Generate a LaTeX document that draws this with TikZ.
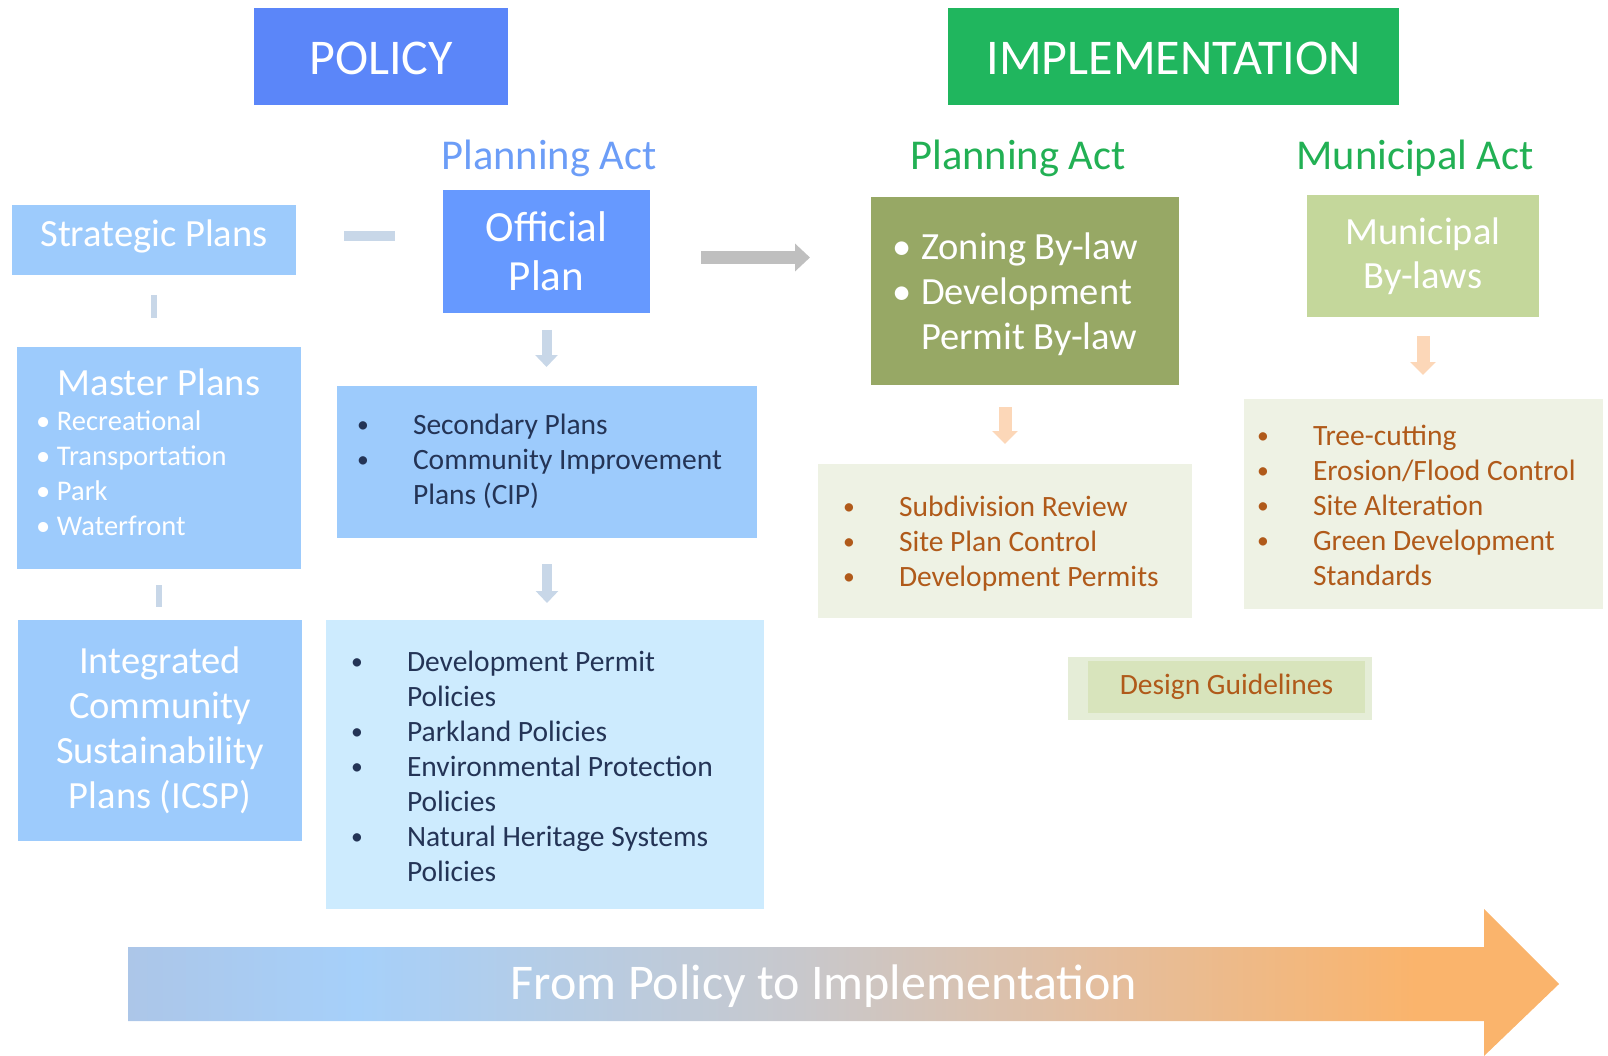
\documentclass[tikz,border=0pt]{standalone}
\usepackage{fontspec}
\usepackage{graphicx}
\setmainfont{Carlito}
\usetikzlibrary{arrows.meta,backgrounds}

\definecolor{policyblue}{RGB}{91,134,249}
\definecolor{implgreen}{RGB}{32,182,94}
\definecolor{actblue}{RGB}{108,157,247}
\definecolor{actgreen}{RGB}{34,176,84}
\definecolor{skyfill}{RGB}{157,203,252}
\definecolor{planfill}{RGB}{102,153,255}
\definecolor{paleblue}{RGB}{205,235,254}
\definecolor{olivefill}{RGB}{151,168,101}
\definecolor{lightolive}{RGB}{196,215,155}
\definecolor{paleolive}{RGB}{238,242,228}
\definecolor{dgouter}{RGB}{229,237,215}
\definecolor{dginner}{RGB}{216,228,188}
\definecolor{navytext}{RGB}{36,52,86}
\definecolor{browntext}{RGB}{176,90,26}
\definecolor{barblue}{RGB}{200,215,232}
\definecolor{arrowgrey}{RGB}{191,191,191}
\definecolor{peach}{RGB}{252,215,184}
\definecolor{flowA}{RGB}{172,198,232}
\definecolor{flowB}{RGB}{166,208,250}
\definecolor{flowC}{RGB}{200,200,204}
\definecolor{flowD}{RGB}{228,190,158}
\definecolor{flowE}{RGB}{250,180,108}
\pgfdeclarehorizontalshading{flowshade}{100bp}{color(0bp)=(flowA); color(25bp)=(flowA);
  color(33bp)=(flowB); color(48.5bp)=(flowC); color(59bp)=(flowD); color(70bp)=(flowE); color(100bp)=(flowE)}

\newcommand{\bul}[1][56pt]{\makebox[#1][l]{\raisebox{2pt}{\scalebox{.8}{\textbullet}}}}
\newcommand{\wbul}[1][21pt]{\makebox[#1][l]{\textbullet}}
\newcommand{\ind}[1][56pt]{\hspace*{#1}}
\newcommand{\lst}[3][4pt]{\raisebox{-#1}[\height][\depth]{\makebox[#2][l]{\begin{tabular}{@{}l@{}}#3\end{tabular}}}}

\begin{document}
\begin{tikzpicture}[x=1pt,y=-1pt,
  box/.style={inner sep=0pt, outer sep=0pt},
  headbox/.style={box, text=white, font=\fontsize{50}{60}\selectfont},
  act/.style={font=\fontsize{42.5}{50}\selectfont},
  bigtext/.style={box, text=white, align=center, font=\fontsize{38.5}{45}\selectfont},
  listtext/.style={box, font=\fontsize{29.5}{35}\selectfont},
  bar/.style={draw=barblue},
  bluearrow/.style={draw=barblue, line width=10pt, -{Triangle[width=22pt,length=12pt]}},
  peacharrow/.style={draw=peach, line width=13pt, -{Triangle[width=25pt,length=13pt]}},
  greyarrow/.style={draw=arrowgrey, line width=13pt, -{Triangle[width=27pt,length=15pt]}}]
  \useasboundingbox (0,0) rectangle (1608,1056);

  % headings
  \node[headbox, fill=policyblue, minimum width=254pt, minimum height=97pt] (policy) at (381,56.5) {\raisebox{-2pt}[\height][\depth]{POLICY}};
  \node[headbox, fill=implgreen, minimum width=451pt, minimum height=97pt] (impl) at (1173.5,56.5) {\raisebox{-2pt}[\height][\depth]{IMPLEMENTATION}};
  \node[act, text=actblue] (actpol) at (549,158) {Planning Act};
  \node[act, text=actgreen] (actimp) at (1018,158) {Planning Act};
  \node[act, text=actgreen] (actmun) at (1415,158) {Municipal Act};

  % policy side
  \node[bigtext, fill=skyfill, minimum width=284pt, minimum height=70pt] (strat) at (154,240) {\raisebox{4pt}[\height][\depth]{Strategic Plans}};
  \node[bigtext, fill=planfill, minimum width=207pt, minimum height=123pt, font=\fontsize{43}{49}\selectfont] (oplan) at (546.5,251.5) {Official\\Plan};
  \node[listtext, fill=skyfill, text=white, minimum width=284pt, minimum height=222pt, inner xsep=19pt, font=\fontsize{28.5}{35}\selectfont] (master) at (159,458)
    {\lst[-1pt]{246pt}{\makebox[246pt]{\fontsize{38.5}{46}\selectfont Master Plans}\\ \wbul Recreational\\ \wbul Transportation\\ \wbul Park\\ \wbul Waterfront}};
  \node[bigtext, fill=skyfill, minimum width=284pt, minimum height=221pt] (icsp) at (160,730.5) {Integrated\\Community\\Sustainability\\Plans (ICSP)};
  \node[listtext, fill=skyfill, text=navytext, minimum width=420pt, minimum height=152pt, inner xsep=20pt] (second) at (547,462)
    {\lst[0pt]{380pt}{\bul Secondary Plans\\ \bul Community Improvement\\ \ind Plans (CIP)}};
  \node[listtext, fill=paleblue, text=navytext, minimum width=438pt, minimum height=289pt, inner xsep=25pt] (devpol) at (545,764.5)
    {\lst[4.5pt]{388pt}{\bul Development Permit\\ \ind Policies\\ \bul Parkland Policies\\ \bul Environmental Protection\\ \ind Policies\\ \bul Natural Heritage Systems\\ \ind Policies}};

  % implementation side
  \node[bigtext, fill=olivefill, minimum width=308pt, minimum height=188pt, inner xsep=21pt] (zoning) at (1025,291)
    {\lst[5pt]{266pt}{\wbul[29pt]Zoning By-law\\ \wbul[29pt]Development\\ \ind[29pt]Permit By-law}};
  \node[listtext, fill=paleolive, text=browntext, minimum width=374pt, minimum height=154pt, inner xsep=25pt] (subdiv) at (1005,541)
    {\lst[3.5pt]{324pt}{\bul Subdivision Review\\ \bul Site Plan Control\\ \bul Development Permits}};
  \node[bigtext, fill=lightolive, minimum width=232pt, minimum height=122pt, font=\fontsize{38.5}{44}\selectfont] (mbylaw) at (1423,256) {Municipal\\By-laws};
  \node[listtext, fill=paleolive, text=browntext, minimum width=359pt, minimum height=210pt, inner xsep=13pt] (trees) at (1423.5,504)
    {\lst[4.5pt]{333pt}{\bul Tree-cutting\\ \bul Erosion/Flood Control\\ \bul Site Alteration\\ \bul Green Development\\ \ind Standards}};
  \node[listtext, fill=dginner, text=browntext, minimum width=277pt, minimum height=52pt] (design) at (1226.5,687) {Design Guidelines};
  \begin{scope}[on background layer]
    \fill[dgouter] ([xshift=-20pt,yshift=4pt]design.north west) rectangle ([xshift=7pt,yshift=-7pt]design.south east);
  \end{scope}

  % connectors
  \draw[bar, line width=10pt, shorten <=48pt, shorten >=48pt] ([yshift=4pt]strat.east) -- ([yshift=4pt]strat.east -| oplan.west);
  \draw[bar, line width=6pt, shorten <=20pt, shorten >=29pt] (strat.south) -- (strat.south |- master.north);
  \draw[bar, line width=6pt, shorten <=16pt, shorten >=13pt] (master.south) -- (master.south |- icsp.north);
  \draw[bluearrow, shorten <=17pt, shorten >=19pt] (oplan.south) -- (oplan.south |- second.north);
  \draw[bluearrow, shorten <=26pt, shorten >=17pt] (second.south) -- (second.south |- devpol.north);
  \draw[greyarrow, shorten <=51pt, shorten >=61pt] ([yshift=-6pt]oplan.east) -- ([yshift=-6pt]oplan.east -| zoning.west);
  \draw[peacharrow, shorten <=22pt, shorten >=20pt] (subdiv.north |- zoning.south) -- (subdiv.north);
  \draw[peacharrow, shorten <=19pt, shorten >=24pt] (mbylaw.south) -- (mbylaw.south |- trees.north);

  % policy to implementation arrow
  \shade[shading=flowshade] (128,947) -- (1484,947) -- (1484,909) -- (1559,984) -- (1484,1056) -- (1484,1021) -- (128,1021) -- cycle;
  \node[headbox] (flow) at (824,986) {From Policy to Implementation};
\end{tikzpicture}
\end{document}
